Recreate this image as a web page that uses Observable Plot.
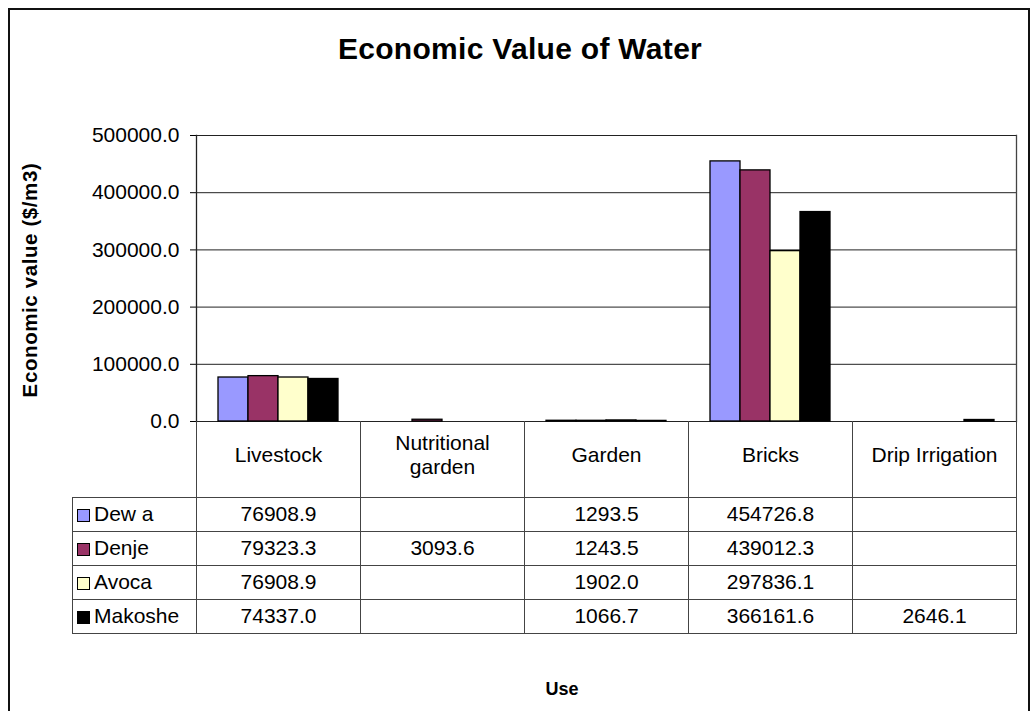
<!DOCTYPE html>
<html><head><meta charset="utf-8">
<script src="https://cdn.jsdelivr.net/npm/d3@7"></script>
<script src="https://cdn.jsdelivr.net/npm/@observablehq/plot@0.6"></script>
<style>
body{margin:0;background:#fff;font-family:"Liberation Sans",Arial,sans-serif;color:#000}
#wrap{position:relative;width:1032px;height:711px;overflow:hidden;background:#fff}
#border{position:absolute;left:8px;top:8px;width:1022px;height:740px;border:2px solid #111;box-sizing:border-box}
#title{position:absolute;top:32px;left:0;width:1040px;text-align:center;font-weight:bold;font-size:30px;letter-spacing:0.3px}
#ylabel{position:absolute;left:-120px;top:268px;width:300px;text-align:center;font-weight:bold;font-size:20.5px;transform:rotate(-90deg);transform-origin:150px 12px;letter-spacing:0.6px}
#chart{position:absolute;left:0;top:0}
#xlabel{position:absolute;top:679px;left:0;width:1124px;text-align:center;font-weight:bold;font-size:18px}
table.dt{position:absolute;border-collapse:collapse;font-size:21px}
table.dt td{padding:0;text-align:center;border:1px solid #444;box-sizing:border-box}
table.dt td.blank{border:none}
table.dt td.head{border-top:none}
table.dt td.name{text-align:left;padding-left:4px;white-space:nowrap}
.sw{display:inline-block;width:13px;height:13px;border:1px solid #000;margin-right:4px;vertical-align:-1px;box-sizing:border-box}
</style></head>
<body>
<div id="wrap">
  <div id="border"></div>
  <div id="title">Economic Value of Water</div>
  <div id="ylabel">Economic value ($/m3)</div>
  <div id="chart"></div>
  <div id="xlabel">Use</div>
</div>
<script>
const categories = ["Livestock", "Nutritional garden", "Garden", "Bricks", "Drip Irrigation"];
const headerLabels = ["Livestock", "Nutritional\ngarden", "Garden", "Bricks", "Drip Irrigation"];
const series = ["Dewa", "Denje", "Avoca", "Makoshe"];
const seriesLabels = ["Dew a", "Denje", "Avoca", "Makoshe"];
const colors = ["#9999FF", "#993366", "#FFFFCC", "#000000"];
const dewa    = [76908.9, null, 1293.5, 454726.8, null];
const denje   = [79323.3, 3093.6, 1243.5, 439012.3, null];
const avoca   = [76908.9, null, 1902.0, 297836.1, null];
const makoshe = [74337.0, null, 1066.7, 366161.6, 2646.1];
const yTicks = [0, 100000, 200000, 300000, 400000, 500000];

const seriesValues = [dewa, denje, avoca, makoshe];
const data = [];
series.forEach((s, si) => categories.forEach((c, ci) => {
  const v = seriesValues[si][ci];
  if (v != null) data.push({cat: c, series: s, value: v});
}));

const plot = Plot.plot({
  width: 1032,
  height: 497,
  marginTop: 135,
  marginLeft: 195,
  marginRight: 15,
  marginBottom: 76,
  style: {fontFamily: "Liberation Sans, Arial, sans-serif", fontSize: "21px", color: "#000", background: "transparent"},
  fx: {domain: categories, padding: 0, axis: null, label: null},
  x: {domain: series, paddingInner: 0, paddingOuter: 0.68, axis: null},
  y: {domain: [0, 500000], ticks: yTicks, tickFormat: d => d.toFixed(1), tickSize: 6, tickPadding: 11, label: null},
  color: {domain: series, range: colors},
  marks: [
    Plot.ruleY(yTicks, {stroke: "#222", strokeWidth: 1}),
    Plot.barY(data, {fx: "cat", x: "series", y: "value", fill: "series", stroke: "#000", strokeWidth: 1.3, inset: 0}),
    Plot.text(categories, {fx: d => d, text: (d, i) => headerLabels[i], frameAnchor: "bottom", dy: 33, lineAnchor: "middle", lineHeight: 1.15, fontSize: 21, fill: "#000"}),
    Plot.frame({anchor: "left", facet: "super", stroke: "#222", strokeWidth: 1.3}),
    Plot.frame({anchor: "right", facet: "super", stroke: "#444", strokeWidth: 1.3})
  ]
});
document.getElementById("chart").appendChild(plot);

// data table aligned with the fx scale
const fxS = plot.scale("fx");
const bw = fxS.bandwidth;
const start = fxS.apply(categories[0]);
const tableLeft = 72;
const table = document.createElement("table");
table.className = "dt";
table.style.left = tableLeft + "px";
table.style.top = "421px";
let html = `<tr style="height:76px"><td class="blank" style="width:${start - tableLeft}px"></td>`;
categories.forEach(() => html += `<td class="head" style="width:${bw}px"></td>`);
html += "</tr>";
series.forEach((s, si) => {
  html += `<tr style="height:34px"><td class="name"><span class="sw" style="background:${colors[si]}"></span>${seriesLabels[si]}</td>`;
  categories.forEach((c, ci) => {
    const v = seriesValues[si][ci];
    html += `<td>${v == null ? "" : v.toFixed(1)}</td>`;
  });
  html += "</tr>";
});
table.innerHTML = html;
document.getElementById("wrap").appendChild(table);
</script>
</body></html>
